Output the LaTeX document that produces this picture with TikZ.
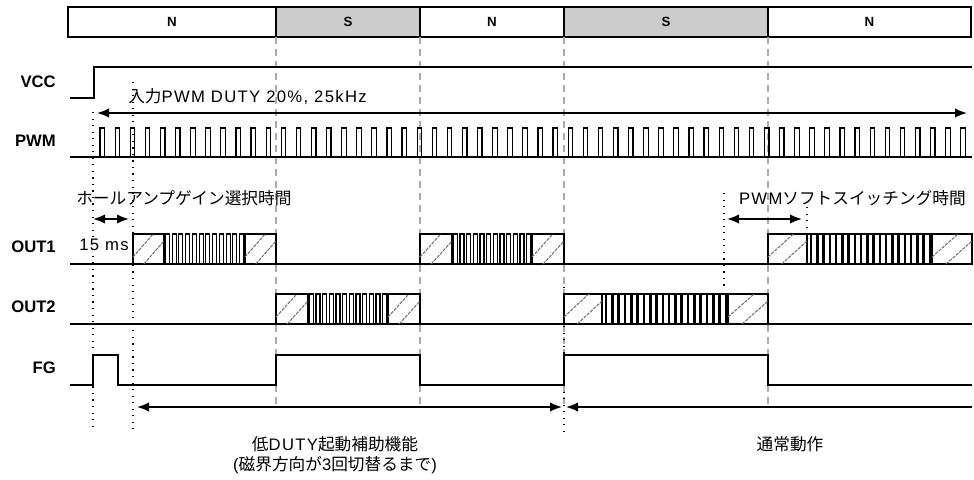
\documentclass[tikz,border=0pt]{standalone}
\usepackage{fontspec}
\setmainfont{Liberation Sans}
\newfontfamily\jpfont{Noto Sans CJK JP}
\usetikzlibrary{arrows.meta}

\newcommand{\jp}[1]{{\jpfont #1}}

\tikzstyle{wave}=[line width=1.2pt, line join=miter]
\tikzstyle{pole}=[draw, line width=1.2pt, minimum height=22.5pt, inner sep=0pt, outer sep=0pt,
    anchor=north west, font=\bfseries\fontsize{10}{12}\selectfont]
\tikzstyle{guide}=[gray!65, line width=0.8pt, dash pattern=on 5.5pt off 3.5pt]
\tikzstyle{dotline}=[line width=0.9pt, dash pattern=on 0.9pt off 4pt]
\tikzstyle{hatch}=[black!55, line width=0.8pt, dash pattern=on 2.5pt off 0.8pt]
\tikzstyle{dim}=[line width=1.2pt, {Latex[length=9pt,width=7pt]}-{Latex[length=9pt,width=7pt]}]
\tikzstyle{siglabel}=[anchor=east, inner sep=0pt, font=\bfseries\fontsize{12.5}{14}\selectfont]
\tikzstyle{note}=[inner sep=0pt, font=\fontsize{12.5}{15}\selectfont\addfontfeature{LetterSpace=8}]

% box with two hatch strokes: left, right, baseline
\newcommand{\hatchbox}[3]{%
    \pgfmathsetmacro{\hbA}{#1+0.65*(#2-#1)}%
    \pgfmathsetmacro{\hbB}{#1+0.35*(#2-#1)}%
    \draw[wave] (#1,#3) rectangle (#2,#3-30);
    \draw[hatch] (#1,#3-7) -- (\hbA,#3-30);
    \draw[hatch] (\hbB,#3) -- (#2,#3-23);
}
% pulse burst: from, to, count, baseline
\newcommand{\burst}[4]{%
    \pgfmathsetmacro{\bper}{(#2-#1)/#3}%
    \foreach \k in {1,...,#3}{%
        \pgfmathsetmacro{\bxa}{#1+(\k-0.8)*\bper}%
        \pgfmathsetmacro{\bxb}{#1+(\k-0.2)*\bper}%
        \draw[wave, line width=0.8pt] (\bxa,#4) -- (\bxa,#4-30) -- (\bxb,#4-30) -- (\bxb,#4);
    }}
% dense bars: from, to, count, baseline
\newcommand{\dense}[4]{%
    \pgfmathsetmacro{\bper}{(#2-#1)/#3}%
    \draw[wave] (#1,#4-30) -- (#2,#4-30);
    \foreach \k in {1,...,#3}{%
        \pgfmathsetmacro{\bxa}{#1+(\k-0.55)*\bper}%
        \fill (\bxa,#4) rectangle (\bxa+2.6,#4-30);
    }}

\begin{document}
\begin{tikzpicture}[x=0.75pt, y=-0.75pt]
        \useasboundingbox (0,0) rectangle (974,479);

% Poles
        \node[pole, minimum width=156pt] (pole1) at (68,7) {N};
        \node[pole, minimum width=108pt, fill=gray!40] (pole2) at (pole1.north east) {S};
        \node[pole, minimum width=108pt] (pole3) at (pole2.north east) {N};
        \node[pole, minimum width=153pt, fill=gray!40] (pole4) at (pole3.north east) {S};
        \node[pole, minimum width=152.25pt] (pole5) at (pole4.north east) {N};

        \foreach \p in {2,...,5}
            \draw[guide] (pole\p.south west) -- ++(0,368);

% Signal names
        \foreach \name/\y in {VCC/82,PWM/141,OUT1/247,OUT2/307,FG/368}
            \node[siglabel] (lbl\name) at (56,\y) {\name};

% VCC
        \draw[wave] (70,98) -- (94,98) -- (94,67) -- (972,67);

% PWM
        \draw[wave] (70,157) -- (972,157);
        \foreach \k in {0,...,57}{
            \pgfmathsetmacro{\pwmx}{100+15.1*\k}
            \draw[wave, line width=0.9pt] (\pwmx,157) -- (\pwmx,128) -- (\pwmx+4.5,128) -- (\pwmx+4.5,157);
        }

% OUT1
        \draw[wave] (70,264) -- (972,264);
        \hatchbox{133}{164}{264} \burst{164}{245}{12}{264} \hatchbox{245}{276}{264}
        \hatchbox{420}{452}{264} \burst{452}{532}{12}{264} \hatchbox{532}{564}{264}
        \hatchbox{768}{807}{264} \dense{807}{932}{20}{264} \hatchbox{932}{972}{264}

% OUT2
        \draw[wave] (70,324) -- (972,324);
        \hatchbox{276}{308}{324} \burst{308}{388}{12}{324} \hatchbox{388}{420}{324}
        \hatchbox{564}{602}{324} \dense{602}{728}{20}{324} \hatchbox{728}{768}{324}

% FG
        \draw[wave] (70,385) -- (93,385) -- (93,355) -- (118,355) -- (118,385)
            -- (276,385) -- (276,355) -- (420,355) -- (420,385)
            -- (564,385) -- (564,355) -- (768,355) -- (768,385) -- (972,385);

% Timing marks
        \draw[dotline] (93,112) -- (93,427);
        \draw[dotline] (133,82) -- (133,433);
        \draw[dotline] (724,193) -- (724,290);
        \draw[dotline] (807,207) -- (807,230);
        \draw[dotline] (564,287) -- (564,432);

% Arrows
        \coordinate (pwm-l) at (97,113);
        \coordinate (pwm-r) at (967,113);
        \coordinate (ms-l) at (93,219);
        \coordinate (ms-r) at (129,219);
        \coordinate (soft-l) at (727,219);
        \coordinate (soft-r) at (802,219);
        \coordinate (start-l) at (137,407);
        \coordinate (start-r) at (562,407);
        \coordinate (run-l) at (566,407);
        \coordinate (run-r) at (972,407);

        \draw[dim] (pwm-l) -- (pwm-r);
        \draw[dim] (ms-l) -- (ms-r);
        \draw[dim] (soft-l) -- (soft-r);
        \draw[dim] (start-l) -- (start-r);
        \draw[line width=1.2pt, -{Latex[length=9pt,width=7pt]}] (run-r) -- (run-l);

% Notes
        \node[note, anchor=west] (pwmnote) at (128,97) {\jp{入力}PWM DUTY 20\%, 25kHz};
        \node[note, anchor=west] (gainnote) at (76,198) {\jp{ホールアンプゲイン選択時間}};
        \node[note, anchor=east] (softnote) at (966,198) {PWM\jp{ソフトスイッチング時間}};
        \node[note, anchor=east] (msnote) at (129,245) {15 ms};
        \node[note] (startnote) at (335,444) {\jp{低}DUTY\jp{起動補助機能}};
        \node[note] (startnote2) at (335,465) {(\jp{磁界方向が}3\jp{回切替るまで})};
        \node[note] (runnote) at (790,444) {\jp{通常動作}};

    \end{tikzpicture}
\end{document}
